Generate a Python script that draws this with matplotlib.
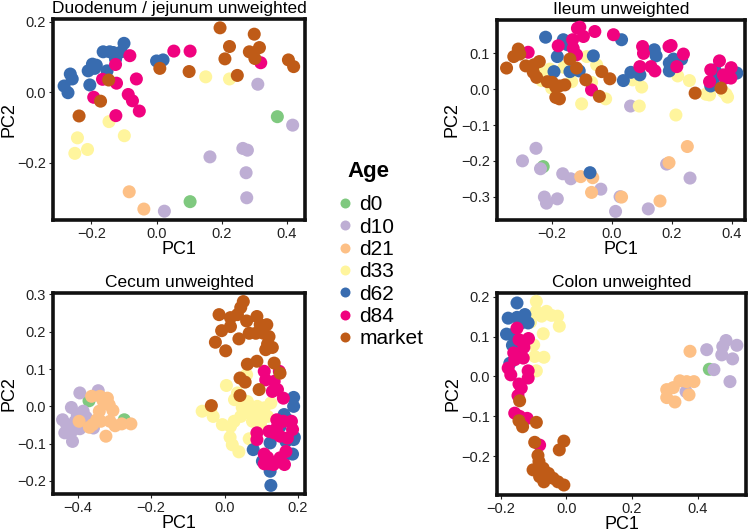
import matplotlib
matplotlib.use("Agg")
import matplotlib.pyplot as plt
from matplotlib.lines import Line2D
import numpy as np

# Age groups and colours (Brewer "Accent")
ages = ["d0", "d10", "d21", "d33", "d62", "d84", "market"]
colors = ["#7FC97F", "#BEAED4", "#FDC086", "#FFF59D", "#386CB0", "#F0027F", "#BF5B17"]

# ---- Duodenum / jejunum (PC1, PC2) ----
duo_d0 = [(0.371, -0.069), (0.103, -0.310)]
duo_d10 = [(0.311, 0.023), (0.418, -0.093), (0.164, -0.183), (0.265, -0.159), (0.279, -0.164),
           (0.275, -0.228), (0.277, -0.299), (0.024, -0.337)]
duo_d21 = [(-0.084, -0.282), (-0.039, -0.331)]
duo_d33 = [(0.151, 0.044), (0.224, 0.038), (-0.146, -0.083), (-0.243, -0.129), (-0.099, -0.123),
           (-0.212, -0.162), (-0.251, -0.173)]
duo_d62 = [(-0.284, 0.018), (-0.272, -0.001), (-0.265, 0.052), (-0.259, 0.038), (-0.210, 0.061),
           (-0.197, 0.080), (-0.190, 0.068), (-0.205, 0.021), (-0.164, 0.115), (-0.144, 0.115),
           (-0.133, 0.113), (-0.126, 0.094), (-0.100, 0.139), (-0.108, 0.115), (-0.152, 0.061),
           (0.000, 0.089), (0.020, 0.092), (-0.185, 0.077)]
duo_d84 = [(-0.082, 0.104), (-0.126, 0.079), (-0.166, 0.037), (-0.123, 0.026), (-0.062, 0.038),
           (-0.193, -0.014), (-0.087, -0.006), (-0.074, -0.024), (-0.053, -0.053), (-0.125, -0.066),
           (0.053, 0.117), (0.103, 0.117), (0.320, 0.084)]
duo_market = [(0.195, 0.183), (0.300, 0.165), (0.224, 0.130), (0.316, 0.127), (0.285, 0.115),
              (0.302, 0.096), (0.210, 0.095), (0.248, 0.048), (0.100, 0.059), (0.010, 0.068),
              (0.405, 0.092), (0.421, 0.073), (-0.147, 0.035), (-0.172, -0.025), (-0.238, -0.067)]

# ---- Ileum ----
ile_d0 = [(-0.228, -0.216)]
ile_d10 = [(-0.252, -0.165), (-0.297, -0.200), (-0.237, -0.222), (-0.163, -0.236), (-0.136, -0.250),
           (-0.036, -0.279), (-0.224, -0.301), (-0.217, -0.318), (-0.181, -0.306), (0.013, -0.341),
           (0.028, -0.300), (0.063, -0.047), (0.122, -0.334), (0.183, -0.209), (0.261, -0.248)]
ile_d21 = [(-0.103, -0.244), (-0.063, -0.247), (-0.067, -0.288), (0.033, -0.301), (0.191, -0.205),
           (0.252, -0.160), (0.161, -0.312)]
ile_d33 = [(-0.239, 0.045), (-0.233, 0.024), (-0.200, 0.003), (-0.206, 0.056), (-0.159, 0.061),
           (-0.133, 0.021), (-0.083, 0.091), (-0.050, 0.068), (-0.067, 0.019), (-0.100, -0.041),
           (-0.020, -0.027), (0.070, 0.026), (0.100, 0.006), (0.092, -0.047), (0.220, 0.037),
           (0.259, 0.024), (0.214, -0.072), (0.314, -0.014), (0.326, -0.016), (0.381, -0.014),
           (0.386, -0.022), (0.372, -0.007)]
ile_d62 = [(-0.220, 0.145), (-0.161, 0.138), (-0.147, 0.124), (-0.181, 0.091), (-0.192, 0.049),
           (-0.139, 0.049), (-0.108, 0.051), (-0.061, 0.093), (0.033, 0.138), (0.039, 0.024),
           (0.064, 0.047), (0.094, 0.040), (0.142, 0.110), (0.148, 0.093), (0.192, 0.073),
           (0.206, 0.084), (0.233, 0.084), (0.192, 0.051), (0.339, 0.026), (0.344, 0.054),
           (0.330, 0.009), (0.417, 0.045), (-0.072, -0.233)]
ile_d84 = [(-0.114, 0.170), (-0.106, 0.173), (-0.094, 0.147), (-0.056, 0.161), (0.006, 0.152),
           (-0.130, 0.138), (-0.178, 0.121), (-0.128, 0.114), (-0.117, 0.096), (-0.278, 0.103),
           (-0.067, -0.002), (0.103, 0.119), (0.106, 0.100), (0.094, 0.063), (0.131, 0.063),
           (0.144, 0.051), (0.191, 0.119), (0.198, 0.122), (0.239, 0.098), (0.217, 0.063),
           (0.330, 0.054), (0.359, 0.079), (0.326, 0.021), (0.372, 0.040), (0.398, 0.060),
           (0.397, 0.031), (0.378, 0.031)]
ile_market = [(-0.350, 0.059), (-0.326, 0.091), (-0.311, 0.112), (-0.306, 0.098), (-0.286, 0.065),
              (-0.259, 0.068), (-0.241, 0.077), (-0.250, 0.033), (-0.261, 0.047), (-0.214, 0.021),
              (-0.198, 0.019), (-0.186, 0.006), (-0.156, 0.012), (-0.174, 0.009), (-0.186, -0.023),
              (-0.174, -0.027), (-0.139, 0.084), (-0.117, 0.059), (-0.086, 0.026), (-0.033, 0.049),
              (-0.006, 0.029), (-0.041, -0.020), (0.278, -0.011), (0.364, 0.003)]

# ---- Cecum ----
cec_d0 = [(-0.369, 0.015), (-0.273, -0.036)]
cec_d10 = [(-0.394, 0.036), (-0.344, 0.042), (-0.417, -0.003), (-0.441, -0.036), (-0.430, -0.049),
           (-0.407, -0.040), (-0.414, -0.065), (-0.394, -0.060), (-0.435, -0.071), (-0.414, -0.094),
           (-0.377, -0.029), (-0.357, -0.058), (-0.401, -0.022), (-0.385, -0.013)]
cec_d21 = [(-0.396, -0.040), (-0.362, 0.027), (-0.339, 0.027), (-0.319, 0.022), (-0.314, 0.004),
           (-0.304, -0.011), (-0.341, -0.013), (-0.337, -0.040), (-0.348, -0.036), (-0.359, -0.049),
           (-0.312, -0.040), (-0.298, -0.052), (-0.280, -0.047), (-0.255, -0.047), (-0.323, -0.080),
           (-0.368, -0.056), (-0.330, 0.013)]
cec_d33 = [(0.005, 0.056), (0.060, 0.085), (0.035, 0.036), (0.027, 0.018), (-0.061, -0.013),
           (-0.038, -0.012), (-0.031, -0.027), (0.062, 0.013), (0.048, -0.003), (0.080, -0.004),
           (0.108, -0.004), (0.067, -0.018), (0.089, -0.027), (0.117, -0.027), (0.076, -0.040),
           (0.098, -0.049), (0.026, -0.040), (0.016, -0.054), (-0.006, -0.049), (0.015, -0.083),
           (0.067, -0.087), (0.021, -0.103), (0.039, -0.122), (0.126, 0.009), (0.044, -0.027),
           (0.089, 0.000)]
cec_d62 = [(0.188, 0.024), (0.188, 0.000), (0.162, -0.022), (0.171, -0.036), (0.124, -0.098),
           (0.167, -0.094), (0.188, -0.089), (0.190, -0.083), (0.078, -0.116), (0.103, -0.147),
           (0.124, -0.174), (0.160, -0.137), (0.185, -0.128), (0.126, -0.212), (0.151, -0.054),
           (0.179, -0.040)]
cec_d84 = [(0.108, 0.094), (0.112, 0.071), (0.135, 0.067), (0.149, 0.094), (0.144, 0.045),
           (0.160, 0.022), (0.130, 0.040), (0.160, -0.040), (0.142, -0.036), (0.182, -0.040),
           (0.185, -0.062), (0.121, -0.067), (0.135, -0.071), (0.151, -0.080), (0.088, -0.071),
           (0.088, -0.089), (0.142, -0.058), (0.108, -0.128), (0.117, -0.137), (0.121, -0.154),
           (0.151, -0.138), (0.163, -0.156), (0.108, -0.154), (0.133, -0.156), (0.167, -0.121),
           (0.171, -0.085)]
cec_market = [(0.051, 0.281), (0.044, 0.265), (-0.015, 0.246), (0.016, 0.238), (0.035, 0.246),
              (0.060, 0.229), (0.088, 0.241), (0.097, 0.219), (0.115, 0.219), (-0.008, 0.203),
              (0.016, 0.214), (0.039, 0.181), (0.067, 0.196), (0.085, 0.196), (0.106, 0.196),
              (0.121, 0.187), (-0.025, 0.172), (0.003, 0.149), (0.117, 0.167), (0.130, 0.158),
              (0.112, 0.152), (0.062, 0.113), (0.088, 0.121), (0.135, 0.116), (0.151, 0.089),
              (0.042, 0.076), (0.056, 0.065), (0.094, 0.045), (0.042, 0.029), (-0.036, 0.002)]

# ---- Colon ----
col_d0 = [(0.436, 0.018)]
col_d10 = [(0.365, -0.038), (0.428, 0.067), (0.487, 0.090), (0.477, 0.075), (0.520, 0.078),
           (0.474, 0.054), (0.507, 0.044), (0.450, 0.017), (0.499, -0.013)]
col_d21 = [(0.377, 0.063), (0.306, -0.033), (0.326, -0.028), (0.346, -0.011), (0.367, -0.013),
           (0.389, -0.013), (0.306, -0.053), (0.331, -0.064), (0.374, -0.046)]
col_d33 = [(-0.092, 0.188), (-0.092, 0.163), (-0.061, 0.163), (-0.046, 0.153), (-0.027, 0.151),
           (-0.076, 0.151), (-0.022, 0.126), (-0.071, 0.107), (-0.100, 0.079), (-0.097, 0.050),
           (-0.069, 0.048), (-0.092, 0.014), (-0.110, 0.136)]
col_d62 = [(-0.151, 0.184), (-0.178, 0.146), (-0.151, 0.148), (-0.127, 0.155), (-0.117, 0.134),
           (-0.138, 0.134), (-0.183, 0.106), (-0.165, 0.105), (-0.165, 0.078), (-0.148, 0.064),
           (-0.173, 0.033)]
col_d84 = [(-0.151, 0.121), (-0.145, 0.092), (-0.116, 0.095), (-0.130, 0.073), (-0.161, 0.059),
           (-0.178, 0.021), (-0.158, 0.042), (-0.170, 0.004), (-0.132, 0.046), (-0.117, 0.014),
           (-0.117, -0.004), (-0.145, -0.019), (-0.138, -0.029), (-0.148, -0.048), (-0.158, -0.092),
           (-0.143, -0.100), (-0.120, -0.105), (-0.082, -0.172)]
col_market = [(-0.143, -0.061), (-0.145, -0.111), (-0.134, -0.126), (-0.092, -0.115), (-0.097, -0.165),
              (-0.008, -0.162), (-0.022, -0.184), (-0.087, -0.198), (-0.084, -0.213), (-0.102, -0.234),
              (-0.071, -0.230), (-0.055, -0.243), (-0.041, -0.255), (-0.026, -0.264), (-0.069, -0.264),
              (-0.008, -0.272), (-0.082, -0.251)]

panels = [
    ("Duodenum / jejunum unweighted",
     [duo_d0, duo_d10, duo_d21, duo_d33, duo_d62, duo_d84, duo_market],
     [0.0707, 0.5857, 0.336, 0.3785], (-0.318, 0.456), (-0.362, 0.208),
     [-0.2, 0.0, 0.2, 0.4], [-0.2, 0.0, 0.2]),
    ("Ileum unweighted",
     [ile_d0, ile_d10, ile_d21, ile_d33, ile_d62, ile_d84, ile_market],
     [0.6622, 0.5857, 0.3311, 0.3766], (-0.383, 0.444), (-0.365, 0.193),
     [-0.2, 0.0, 0.2, 0.4], [-0.3, -0.2, -0.1, 0.0, 0.1]),
    ("Cecum unweighted",
     [cec_d0, cec_d10, cec_d21, cec_d33, cec_d62, cec_d84, cec_market],
     [0.0707, 0.0697, 0.336, 0.3785], (-0.467, 0.219), (-0.235, 0.304),
     [-0.4, -0.2, 0.0, 0.2], [-0.2, -0.1, 0.0, 0.1, 0.2, 0.3]),
    ("Colon unweighted",
     [col_d0, col_d10, col_d21, col_d33, col_d62, col_d84, col_market],
     [0.6627, 0.0678, 0.332, 0.3804], (-0.212, 0.548), (-0.297, 0.209),
     [-0.2, 0.0, 0.2, 0.4], [-0.2, -0.1, 0.0, 0.1, 0.2]),
]

plt.rcParams['font.family'] = ['Liberation Sans', 'DejaVu Sans']

fig = plt.figure(figsize=(7.5, 5.31), dpi=100)

def fmt(v):
    s = f"{v:.1f}"
    return s.replace("-", "\u2212")

for title, groups, pos, xlim, ylim, xt, yt in panels:
    ax = fig.add_axes(pos)
    for pts, c in zip(groups, colors):
        arr = np.array(pts)
        ax.scatter(arr[:, 0], arr[:, 1], s=88, color=c, edgecolors='none', zorder=3)
    ax.set_xlim(*xlim)
    ax.set_ylim(*ylim)
    ax.set_xticks(xt)
    ax.set_yticks(yt)
    ax.set_xticklabels([fmt(v) for v in xt])
    ax.set_yticklabels([fmt(v) for v in yt])
    ax.tick_params(labelsize=10.5, length=3, width=0.8, colors='#222222', pad=2)
    for sp in ax.spines.values():
        sp.set_linewidth(2.6)
        sp.set_color('#111111')
    ax.set_xlabel("PC1", fontsize=13, labelpad=0)
    ax.set_ylabel("PC2", fontsize=13, labelpad=0)
    ax.set_title(title, fontsize=12.5, pad=4)

# legend: title drawn separately so its gap to the entries matches
fig.text(347 / 750, 1 - 172 / 531, "Age", fontsize=16, fontweight='bold', va='center', ha='left')
handles = [Line2D([0], [0], marker='o', linestyle='none', markersize=7.2,
                  markerfacecolor=c, markeredgecolor='none') for c in colors]
leg = fig.legend(handles, ages, loc='upper left', bbox_to_anchor=(0.435, 0.648),
                 frameon=False, fontsize=15, handletextpad=0.2,
                 labelspacing=0.16, handlelength=1.0, borderaxespad=0)

fig.savefig("out.png", dpi=100)
